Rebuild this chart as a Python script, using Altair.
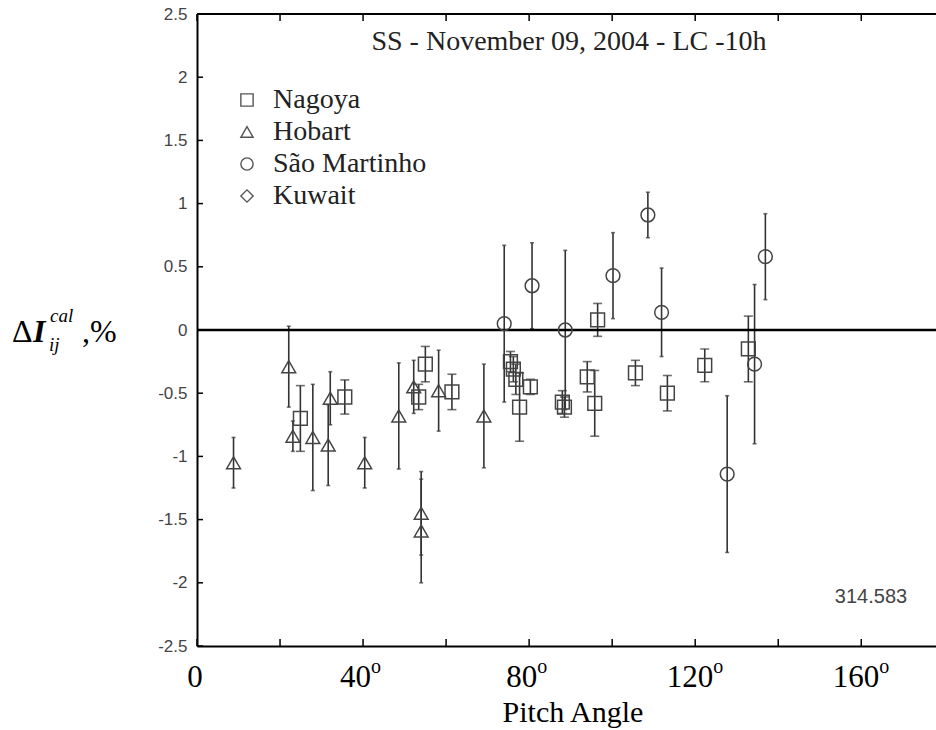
import altair as alt
import pandas as pd

# ---------------- data ----------------
stations = ["Nagoya", "Hobart", "São Martinho", "Kuwait"]
shapes = ["square", "triangle-up", "circle", "diamond"]

nagoya_x = [24.9, 35.6, 53.4, 55.0, 61.4, 75.5, 76.2, 76.8, 77.7, 80.3, 88.0, 88.5, 94.0, 95.8, 96.5, 105.6, 113.3, 122.3, 132.8]
nagoya_y = [-0.70, -0.53, -0.53, -0.27, -0.49, -0.25, -0.31, -0.39, -0.61, -0.45, -0.57, -0.61, -0.37, -0.58, 0.08, -0.34, -0.50, -0.28, -0.15]
nagoya_err = [0.26, 0.135, 0.10, 0.14, 0.14, 0.08, 0.10, 0.12, 0.27, 0.06, 0.09, 0.08, 0.12, 0.26, 0.13, 0.10, 0.14, 0.13, 0.26]

hobart_x = [8.8, 22.1, 23.1, 27.9, 31.6, 32.1, 40.4, 48.6, 52.2, 54.0, 54.0, 58.2, 69.1]
hobart_y = [-1.05, -0.29, -0.84, -0.85, -0.91, -0.54, -1.05, -0.68, -0.45, -1.45, -1.59, -0.48, -0.68]
hobart_err = [0.20, 0.32, 0.12, 0.42, 0.32, 0.21, 0.20, 0.42, 0.21, 0.33, 0.41, 0.32, 0.41]

sm_x = [74.0, 80.7, 88.7, 100.2, 108.6, 111.9, 127.7, 134.3, 136.9]
sm_y = [0.05, 0.35, 0.0, 0.43, 0.91, 0.14, -1.14, -0.27, 0.58]
sm_err = [0.62, 0.34, 0.63, 0.34, 0.18, 0.35, 0.62, 0.63, 0.34]

y_ticks = [-2.5, -2, -1.5, -1, -0.5, 0, 0.5, 1, 1.5, 2, 2.5]
x_ticks = [0, 20, 40, 60, 80, 100, 120, 140, 160]
x_labels = [0, 40, 80, 120, 160]

title_text = "SS - November 09, 2004 - LC -10h"
corner_text = "314.583"
x_title = "Pitch Angle"

# ---------------- build table ----------------
rows = []
for name, xs, ys, es in [("Nagoya", nagoya_x, nagoya_y, nagoya_err),
                         ("Hobart", hobart_x, hobart_y, hobart_err),
                         ("São Martinho", sm_x, sm_y, sm_err)]:
    for a, v, e in zip(xs, ys, es):
        rows.append({"station": name, "angle": a, "val": v, "err": e})
df = pd.DataFrame(rows)

W, H = 739, 632
SERIF = "Liberation Serif"
SANS = "Liberation Sans"

xscale = alt.Scale(domain=[0, 178], nice=False, zero=False)
yscale = alt.Scale(domain=[-2.5, 2.5], nice=False, zero=False)

xaxis = alt.Axis(title=None, labels=False, ticks=False, grid=False,
                 domainColor="black", domainWidth=2)
yaxis = alt.Axis(title=None, values=y_ticks, labelExpr="'' + datum.value",
                 ticks=False, tickSize=0, grid=False, domainColor="black", domainWidth=2,
                 labelFont=SANS, labelFontSize=17, labelColor="#444", labelPadding=10)

base = alt.Chart(df).transform_calculate(
    lo="datum.val - datum.err",
    hi="datum.val + datum.err",
    cap="datum.station == 'Nagoya' ? 9 : 4",
)

bars = base.mark_rule(color="#333", strokeWidth=1.6).encode(
    x=alt.X("angle:Q", scale=xscale, axis=xaxis),
    y=alt.Y("lo:Q", scale=yscale, axis=yaxis),
    y2="hi:Q",
)
caps_lo = base.mark_tick(orient="horizontal", thickness=1.6, color="#333").encode(
    x=alt.X("angle:Q", scale=xscale), y=alt.Y("lo:Q", scale=yscale),
    size=alt.Size("cap:Q", scale=None),
)
caps_hi = base.mark_tick(orient="horizontal", thickness=1.6, color="#333").encode(
    x=alt.X("angle:Q", scale=xscale), y=alt.Y("hi:Q", scale=yscale),
    size=alt.Size("cap:Q", scale=None),
)
points = base.mark_point(filled=False, size=190, strokeWidth=1.5, color="#444", opacity=1).encode(
    x=alt.X("angle:Q", scale=xscale),
    y=alt.Y("val:Q", scale=yscale),
    shape=alt.Shape("station:N", scale=alt.Scale(domain=stations, range=shapes),
                    legend=alt.Legend(orient="none", legendX=36, legendY=72, title=None,
                                      labelFont=SERIF, labelFontSize=28, labelColor="#222",
                                      symbolSize=150, symbolStrokeWidth=1.4,
                                      symbolStrokeColor="#555", symbolFillColor="transparent",
                                      rowPadding=4, labelOffset=12, padding=0,
                                      labelLimit=400)),
)

zero_line = alt.Chart(pd.DataFrame({"z": [0]})).mark_rule(color="black", strokeWidth=2.5).encode(
    y=alt.Y("z:Q", scale=yscale)
)

one = alt.Data(values=[{}])
top_line = alt.Chart(one).mark_rule(color="black", strokeWidth=2).encode(
    x=alt.value(0), x2=alt.value(W), y=alt.value(0)
)

yt = pd.DataFrame({"t": y_ticks})
xt = pd.DataFrame({"t": x_ticks})
left_ticks = alt.Chart(yt).mark_rule(color="black", strokeWidth=1.5).encode(
    y=alt.Y("t:Q", scale=yscale), x=alt.value(0), x2=alt.value(6))
bottom_ticks = alt.Chart(xt).mark_rule(color="black", strokeWidth=1.5).encode(
    x=alt.X("t:Q", scale=xscale), y=alt.value(H), y2=alt.value(H - 7))
top_ticks = alt.Chart(xt).mark_rule(color="black", strokeWidth=1.5).encode(
    x=alt.X("t:Q", scale=xscale), y=alt.value(0), y2=alt.value(7))

xl = pd.DataFrame({"v": x_labels, "lab": [str(v) for v in x_labels]})
lab_base = alt.Chart(xl)
lab0 = lab_base.transform_filter("datum.v == 0").mark_text(
    align="center", dx=-2, font=SERIF, fontSize=31, baseline="alphabetic", color="black"
).encode(x=alt.X("v:Q", scale=xscale), y=alt.value(H + 41), text="lab:N")
lab2 = lab_base.transform_filter("datum.v > 0 && datum.v < 100").mark_text(
    align="right", dx=8, font=SERIF, fontSize=31, baseline="alphabetic", color="black"
).encode(x=alt.X("v:Q", scale=xscale), y=alt.value(H + 41), text="lab:N")
o2 = lab_base.transform_filter("datum.v > 0 && datum.v < 100").mark_text(
    align="left", dx=8, font=SERIF, fontSize=20, baseline="alphabetic", color="black", text="o"
).encode(x=alt.X("v:Q", scale=xscale), y=alt.value(H + 27))
lab3 = lab_base.transform_filter("datum.v >= 100").mark_text(
    align="right", dx=18, font=SERIF, fontSize=31, baseline="alphabetic", color="black"
).encode(x=alt.X("v:Q", scale=xscale), y=alt.value(H + 41), text="lab:N")
o3 = lab_base.transform_filter("datum.v >= 100").mark_text(
    align="left", dx=18, font=SERIF, fontSize=20, baseline="alphabetic", color="black", text="o"
).encode(x=alt.X("v:Q", scale=xscale), y=alt.value(H + 27))


def txt(text, x, y, size, font=SERIF, style="normal", weight="normal",
        align="left", baseline="alphabetic", color="black"):
    return alt.Chart(one).mark_text(
        text=text, font=font, fontSize=size, fontStyle=style, fontWeight=weight,
        align=align, baseline=baseline, color=color
    ).encode(x=alt.value(x), y=alt.value(y))


ytitle = [
    txt("Δ", -185, 328, 32),
    txt("I", -164, 328, 32, style="italic", weight="bold"),
    txt("cal", -147, 308, 19, style="italic"),
    txt("ij", -148, 337, 19, style="italic"),
    txt(",%", -115, 328, 32),
]
main_title = txt(title_text, 372, 36, 28, align="center", color="#222")
corner = txt(corner_text, 674, 583, 20, font=SANS, align="center", baseline="middle", color="#444")
xtitle = txt(x_title, 376, 708, 30, align="center")

chart = alt.layer(
    bars, caps_lo, caps_hi, zero_line, points,
    top_line, left_ticks, bottom_ticks, top_ticks,
    lab0, lab2, o2, lab3, o3,
    *ytitle, main_title, corner, xtitle,
).properties(
    width=W, height=H,
    padding={"left": 197, "top": 14, "right": 0, "bottom": 84},
    autosize=alt.AutoSizeParams(type="none"),
    background="white",
).configure_view(stroke=None)

chart.save("out.html", embed_options={"renderer": "svg", "actions": False})
